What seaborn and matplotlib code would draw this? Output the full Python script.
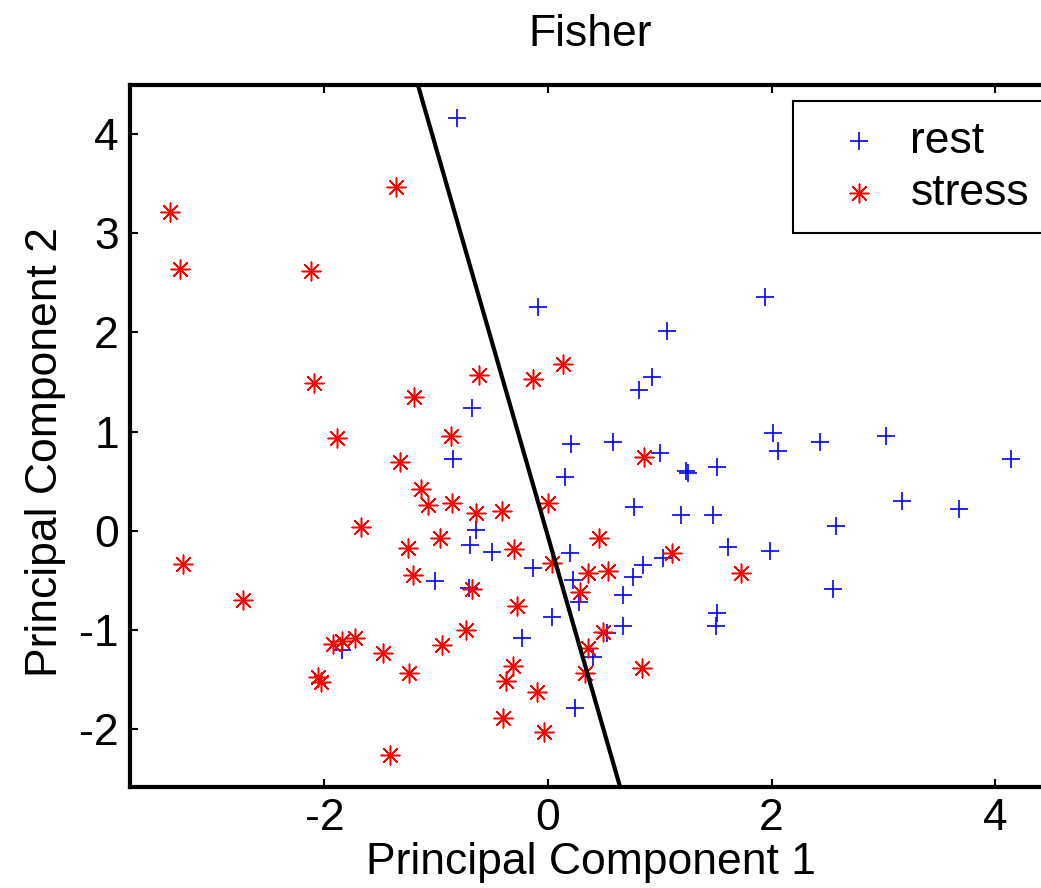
import matplotlib
matplotlib.use("Agg")
import matplotlib.pyplot as plt
import seaborn as sns
import pandas as pd

rest_x = [-0.81, -0.09, -0.68, 0.21, -0.85, 0.15, -0.64, -0.70, -0.50, 0.20,
          -0.13, 0.22, -1.01, -0.71, 0.04, -0.23, -1.84, 0.24, 1.94, 1.06,
          0.93, 0.81, 2.01, 2.06, 2.43, 3.02, 4.14, 0.58, 1.00, 1.23,
          1.25, 1.51, 3.17, 3.68, 0.77, 1.19, 1.48, 2.58, 1.61, 1.99,
          1.03, 0.85, 0.76, 0.28, 0.67, 2.55, 1.51, 1.50, 0.67, 0.53, 0.40]
rest_y = [4.16, 2.25, 1.24, 0.87, 0.72, 0.54, 0.01, -0.14, -0.21, -0.22,
          -0.37, -0.50, -0.51, -0.58, -0.87, -1.08, -1.20, -1.78, 2.35, 2.01,
          1.55, 1.42, 0.99, 0.80, 0.89, 0.95, 0.72, 0.89, 0.78, 0.60,
          0.58, 0.64, 0.30, 0.22, 0.24, 0.16, 0.16, 0.05, -0.16, -0.20,
          -0.27, -0.34, -0.47, -0.72, -0.65, -0.59, -0.83, -0.96, -0.96, -1.03, -1.27]

stress_x = [-1.36, -3.38, -3.29, -2.12, 0.13, -0.62, -0.13, -2.09, -1.20, -1.89,
            -0.87, -1.32, -1.14, -1.07, -0.86, -0.64, -0.41, 0.00, -1.67, -0.97,
            -1.25, -0.30, 0.04, -3.27, -1.21, -0.68, -2.73, -0.28, -0.73, -1.92,
            -1.84, -1.73, -1.48, -0.95, -1.24, -2.06, -2.03, -0.31, -0.38, -0.10,
            -0.40, -0.04, -1.41, 0.86, 0.46, 1.11, 0.36, 0.54, 1.73, 0.29,
            0.49, 0.36, 0.84, 0.33]
stress_y = [3.46, 3.21, 2.64, 2.62, 1.68, 1.57, 1.53, 1.49, 1.35, 0.93,
            0.96, 0.69, 0.42, 0.26, 0.28, 0.18, 0.20, 0.28, 0.04, -0.07,
            -0.17, -0.18, -0.32, -0.33, -0.44, -0.59, -0.70, -0.76, -1.00, -1.14,
            -1.11, -1.08, -1.23, -1.15, -1.43, -1.47, -1.52, -1.36, -1.51, -1.62,
            -1.89, -2.03, -2.26, 0.74, -0.07, -0.22, -0.42, -0.40, -0.42, -0.62,
            -1.02, -1.18, -1.38, -1.43]

line_x = [-1.164, 0.645]
line_y = [4.49, -2.58]

xticks = [-2, 0, 2, 4]
yticks = [-2, -1, 0, 1, 2, 3, 4]

plt.rcParams['font.family'] = ['Liberation Sans', 'DejaVu Sans']

fig = plt.figure(figsize=(10.41, 8.88), dpi=100)
ax = fig.add_axes([130 / 1041, 101 / 888, 921 / 1041, 702 / 888])

rest_df = pd.DataFrame({"x": rest_x, "y": rest_y})
stress_df = pd.DataFrame({"x": stress_x, "y": stress_y})

sns.scatterplot(data=rest_df, x="x", y="y", marker="+", color=(0, 0, 1),
                s=150, linewidth=1.2, label="rest", ax=ax, zorder=3)
sns.scatterplot(data=stress_df, x="x", y="y", marker=(8, 2, 0), color=(1, 0, 0),
                s=180, linewidth=1.1, label="stress", ax=ax, zorder=3)
ax.plot(line_x, line_y, color="black", linewidth=3, zorder=4)

ax.set_xlim(-3.74, 4.5)
ax.set_ylim(-2.58, 4.49)
ax.set_xticks(xticks)
ax.set_yticks(yticks)
ax.set_xticklabels([str(t) for t in xticks])
ax.set_yticklabels([str(t) for t in yticks])
ax.tick_params(direction="in", length=6, width=1.5, labelsize=32, pad=8,
               top=True, right=True)
for sp in ax.spines.values():
    sp.set_linewidth(3)
    sp.set_color("black")

ax.set_xlabel("Principal Component 1", fontsize=32)
ax.set_ylabel("Principal Component 2", fontsize=32)
ax.xaxis.set_label_coords(0.5, -0.078)
ax.yaxis.set_label_coords(-0.07, 0.477)
ax.set_title("Fisher", fontsize=32, pad=28)

leg = ax.legend(loc="upper left", bbox_to_anchor=(793 / 1041, 1 - 101 / 888),
                bbox_transform=fig.transFigure, fontsize=32, frameon=True,
                fancybox=False, edgecolor="black", framealpha=1,
                borderpad=0.44, labelspacing=0.25, handletextpad=0.1,
                borderaxespad=0, handlelength=2.1)
leg.get_frame().set_linewidth(1.5)

fig.savefig("out.png", dpi=100)
